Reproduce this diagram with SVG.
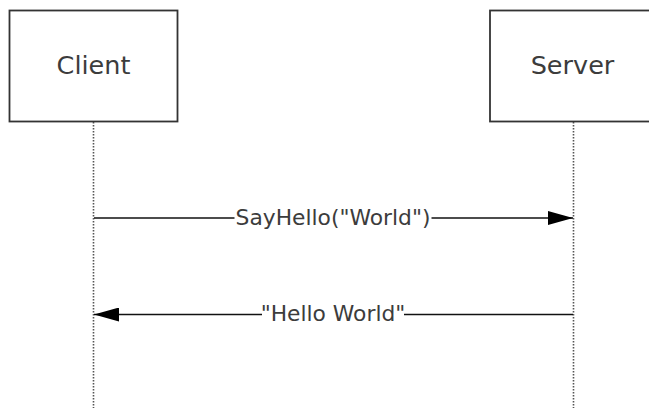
<svg xmlns="http://www.w3.org/2000/svg" width="649" height="408" viewBox="0 0 649 408">
<style>
.box{fill:#fff;stroke:#333;stroke-width:1.8}
.name{font-family:"DejaVu Sans",Verdana,sans-serif;font-size:25.5px;fill:#3c3c3c;text-anchor:middle}
.life{stroke:#555;stroke-width:1.6;stroke-dasharray:1.5 1.5;fill:none}
.msg{stroke:#111;stroke-width:1.4;fill:none}
.lbl{font-family:"DejaVu Sans",Verdana,sans-serif;font-size:21.8px;fill:#3c3c3c;text-anchor:middle}
.bg{fill:#fff}
</style>
<defs>
<marker id="ah" markerWidth="26" markerHeight="14" refX="25" refY="7" orient="auto" markerUnits="userSpaceOnUse">
<path d="M0,0 L25,7 L0,14 Z" fill="#000"/>
</marker>
</defs>
<rect width="649" height="408" fill="#fff"/>
<g id="lifelines">
<line class="life" x1="93.5" y1="122" x2="93.5" y2="408"/>
<line class="life" x1="573.5" y1="122" x2="573.5" y2="408"/>
</g>
<g id="client">
<rect class="box" x="9.5" y="10.5" width="168" height="111"/>
<text class="name" x="93.5" y="74">Client</text>
</g>
<g id="server">
<rect class="box" x="490" y="10.5" width="167" height="111"/>
<text class="name" x="572.5" y="74">Server</text>
</g>
<g id="connectors">
<line class="msg" x1="94" y1="218" x2="573" y2="218" marker-end="url(#ah)"/>
<rect class="bg" x="234.5" y="205" width="197" height="24"/>
<text class="lbl" x="333" y="224.5">SayHello("World")</text>
<line class="msg" x1="573" y1="314.5" x2="94" y2="314.5" marker-end="url(#ah)"/>
<rect class="bg" x="262" y="301" width="142" height="24"/>
<text class="lbl" x="333" y="320.5">"Hello World"</text>
</g>
</svg>
